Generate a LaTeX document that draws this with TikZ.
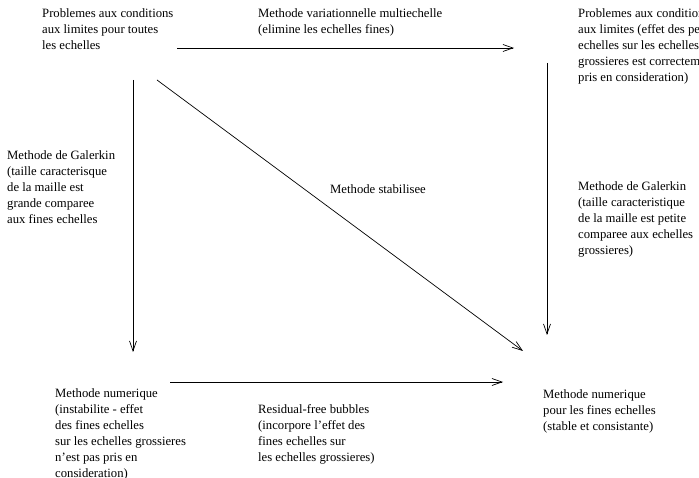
\documentclass[tikz,border=0pt]{standalone}
\usepackage{fontspec}
\setmainfont{Liberation Serif}
\usetikzlibrary{arrows.meta}
\begin{document}
\begin{tikzpicture}[x=1pt,y=-1pt,
  txt/.style={anchor=north west,inner sep=0pt,align=left,font=\fontsize{12.7}{16}\selectfont},
  conn/.style={line width=0.7pt,-{Straight Barb[length=10pt,width=7pt,line width=0.7pt]}}]
\useasboundingbox (0,0) rectangle (699,478);
\node[txt] (tl) at (42,8.3) {Problemes aux conditions\\aux limites pour toutes\\les echelles};
\node[txt] (tm) at (258,8.3) {Methode variationnelle multiechelle\\(elimine les echelles fines)};
\node[txt] (tr) at (578,8.3) {Problemes aux conditions\\aux limites (effet des petites\\echelles sur les echelles\\grossieres est correctement\\pris en consideration)};
\node[txt] (gl) at (7,150.3) {Methode de Galerkin\\(taille caracterisque\\de la maille est\\grande comparee\\aux fines echelles};
\node[txt] (st) at (330,184.3) {Methode stabilisee};
\node[txt] (gr) at (578,181.3) {Methode de Galerkin\\(taille caracteristique\\de la maille est petite\\comparee aux echelles\\grossieres)};
\node[txt] (bl) at (55,388.3) {Methode numerique\\(instabilite - effet\\des fines echelles\\sur les echelles grossieres\\n'est pas pris en\\consideration)};
\node[txt] (rb) at (258,404.3) {Residual-free bubbles\\(incorpore l'effet des\\fines echelles sur\\les echelles grossieres)};
\node[txt] (br) at (543,389.3) {Methode numerique\\pour les fines echelles\\(stable et consistante)};
\coordinate (a1) at (177,48);  \coordinate (a2) at (514,48);
\coordinate (b1) at (133,80);  \coordinate (b2) at (133,352);
\coordinate (c1) at (157,80);  \coordinate (c2) at (523,351);
\coordinate (d1) at (547,63);  \coordinate (d2) at (547,335);
\coordinate (e1) at (170,382); \coordinate (e2) at (503,382);
\draw[conn] (a1) -- (a2);
\draw[conn] (b1) -- (b2);
\draw[conn] (c1) -- (c2);
\draw[conn] (d1) -- (d2);
\draw[conn] (e1) -- (e2);
\end{tikzpicture}
\end{document}
